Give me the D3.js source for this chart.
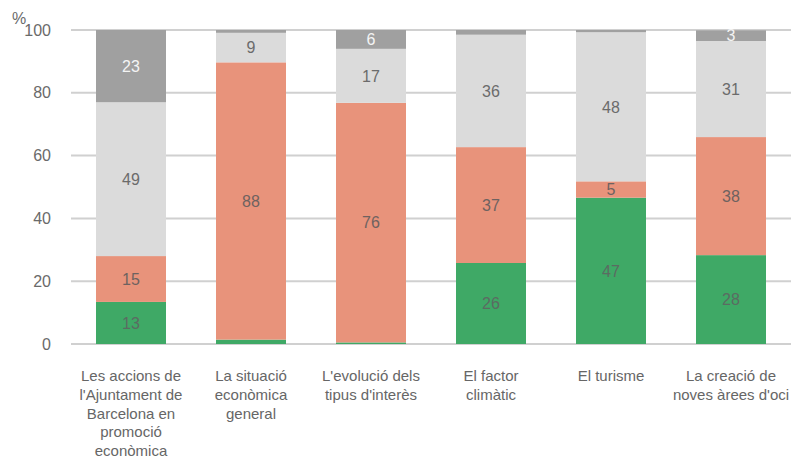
<!DOCTYPE html>
<html>
<head>
<meta charset="utf-8">
<script src="https://cdn.jsdelivr.net/npm/d3@7"></script>
<style>
  html, body { margin: 0; padding: 0; background: #fff; }
  svg { display: block; font-family: "Liberation Sans", Arial, sans-serif; }
</style>
</head>
<body>
<svg id="chart" width="793" height="460"></svg>
<script>
// Categories (x labels, lines)
const categories = [
  ["Les accions de", "l'Ajuntament de", "Barcelona en", "promoció", "econòmica"],
  ["La situació", "econòmica", "general"],
  ["L'evolució dels", "tipus d'interès"],
  ["El factor", "climàtic"],
  ["El turisme"],
  ["La creació de", "noves àrees d'oci"]
];
const seriesNames = ["green", "salmon", "light", "dark"];
const greenValues  = [13.4, 1.4, 0.5, 25.8, 46.6, 28.3];
const salmonValues = [14.6, 88.3, 76.3, 36.9, 5.2, 37.6];
const lightValues  = [49.0, 9.4, 17.2, 35.8, 47.5, 30.6];
const darkValues   = [23.0, 0.9, 6.0, 1.5, 0.7, 3.4];
const yTicks = [0, 20, 40, 60, 80, 100];

const colors = { green: "#3fa966", salmon: "#e8937b", light: "#dbdbdb", dark: "#a0a0a0" };
const labelColors = { green: "#5b6b62", salmon: "#6e6260", light: "#6b6b6b", dark: "#f4f4f4" };

const rows = categories.map((c, i) => ({
  idx: i, green: greenValues[i], salmon: salmonValues[i], light: lightValues[i], dark: darkValues[i]
}));

const svg = d3.select("#chart");
const x = d3.scaleBand().domain(d3.range(categories.length)).range([71, 791])
  .paddingInner(50 / 120).paddingOuter(25 / 120);
const y = d3.scaleLinear().domain([0, 100]).range([344, 30]);

// gridlines
svg.append("g").selectAll("line").data(yTicks).join("line")
  .attr("x1", 71).attr("x2", 791)
  .attr("y1", d => y(d)).attr("y2", d => y(d))
  .attr("stroke", "#d0d0d0").attr("stroke-width", 2);

// y axis labels
const yAxis = d3.axisLeft(y).tickValues(yTicks).tickSize(0).tickPadding(0);
const yg = svg.append("g").attr("transform", "translate(51,0)").call(yAxis);
yg.select(".domain").remove();
yg.selectAll("text").attr("font-size", 16).attr("fill", "#6a6a6a")
  .attr("font-family", "'Liberation Sans', Arial, sans-serif");

svg.append("text").attr("x", 12).attr("y", 24).attr("font-size", 16).attr("fill", "#6a6a6a").text("%");

// stacks
const stack = d3.stack().keys(seriesNames)(rows);
const layers = svg.append("g").selectAll("g").data(stack).join("g")
  .attr("fill", d => colors[d.key]);
layers.selectAll("rect").data(d => d).join("rect")
  .attr("x", d => x(d.data.idx))
  .attr("width", x.bandwidth())
  .attr("y", d => y(d[1]))
  .attr("height", d => y(d[0]) - y(d[1]));

// value labels
stack.forEach(layer => {
  svg.append("g").selectAll("text").data(layer.filter(d => d[1] - d[0] >= 2.5)).join("text")
    .attr("x", d => x(d.data.idx) + x.bandwidth() / 2)
    .attr("y", d => (y(d[0]) + y(d[1])) / 2)
    .attr("dy", "0.36em")
    .attr("text-anchor", "middle")
    .attr("font-size", 16)
    .attr("fill", labelColors[layer.key])
    .text(d => Math.round(d[1] - d[0]));
});

// x labels
const xl = svg.append("g").selectAll("text").data(categories).join("text")
  .attr("text-anchor", "middle")
  .attr("font-size", 15)
  .attr("fill", "#666")
  .attr("transform", (d, i) => `translate(${x(i) + x.bandwidth() / 2},381)`);
xl.selectAll("tspan").data(d => d).join("tspan")
  .attr("x", 0).attr("dy", (d, i) => i === 0 ? 0 : 18.8)
  .text(d => d);
</script>
</body>
</html>
